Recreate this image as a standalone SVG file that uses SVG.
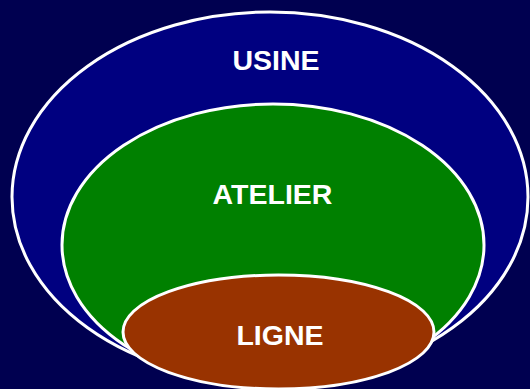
<svg xmlns="http://www.w3.org/2000/svg" width="530" height="389" viewBox="0 0 530 389">
  <style>
    .zone { stroke: #ffffff; stroke-width: 3; }
    .label { font-family: "Liberation Sans", Arial, sans-serif; font-weight: bold; font-size: 28.5px; fill: #ffffff; text-anchor: middle; }
  </style>
  <rect x="0" y="0" width="530" height="389" fill="#000050"/>
  <g id="usine">
    <ellipse class="zone" cx="270" cy="197" rx="258" ry="185" fill="#000080"/>
    <text class="label" x="276" y="70">USINE</text>
  </g>
  <g id="atelier">
    <ellipse class="zone" cx="273" cy="245" rx="211" ry="141" fill="#008000"/>
    <text class="label" x="272.5" y="204">ATELIER</text>
  </g>
  <g id="ligne">
    <ellipse class="zone" cx="278.5" cy="332" rx="155.5" ry="57" fill="#993300"/>
    <text class="label" x="280" y="345">LIGNE</text>
  </g>
  <g id="connectors"/>
</svg>
